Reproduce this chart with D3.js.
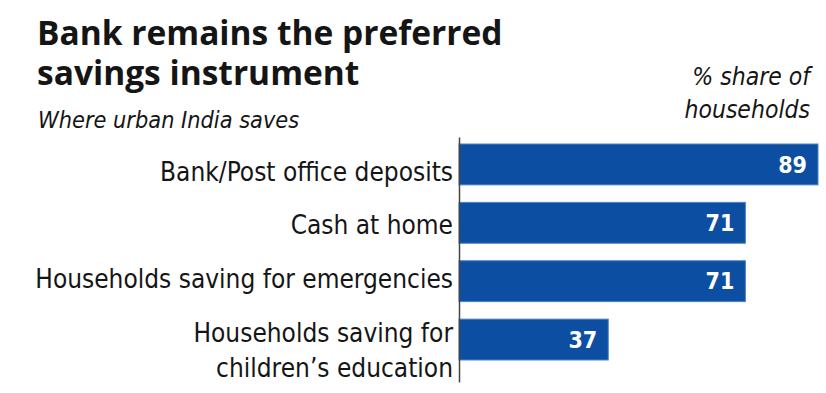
<!DOCTYPE html>
<html>
<head>
<meta charset="utf-8">
<script src="https://cdn.jsdelivr.net/npm/d3@7"></script>
<style>
  html, body { margin: 0; padding: 0; background: #fff; }
  svg { display: block; }
  .narrow { font-family: "Liberation Sans Narrow", "DejaVu Sans Condensed", "Arial Narrow", sans-serif; }
</style>
</head>
<body>
<svg id="chart"></svg>
<script>
// Data
const categories = [
  ["Bank/Post office deposits"],
  ["Cash at home"],
  ["Households saving for emergencies"],
  ["Households saving for", "children\u2019s education"]
];
const values = [89, 71, 71, 37];
const titleLines = ["Bank remains the preferred", "savings instrument"];
const subtitle = "Where urban India saves";
const unitLines = ["% share of", "households"];

const width = 826;
const height = 393;
const barColor = "#0c4ea2";
const textColor = "#151515";

const svg = d3.select("#chart")
  .attr("width", width)
  .attr("height", height)
  .attr("viewBox", `0 0 ${width} ${height}`);

// Scales
const x0 = 459;
const x = d3.scaleLinear().domain([0, 89]).range([x0, 818]);
const y = d3.scaleBand()
  .domain(d3.range(values.length))
  .range([144, 360])
  .paddingInner(0.3)
  .paddingOuter(0);

// Title
svg.append("g")
  .selectAll("text")
  .data(titleLines)
  .join("text")
  .attr("x", 37)
  .attr("y", (d, i) => 45 + i * 40)
  .attr("font-family", "'Open Sans', sans-serif")
  .attr("font-weight", 700)
  .attr("font-size", 33.5)
  .attr("fill", textColor)
  .text((d) => d);

// Subtitle
svg.append("text")
  .attr("class", "narrow")
  .attr("x", 38)
  .attr("y", 128)
  .attr("font-style", "italic")
  .attr("font-size", 23.3)
  .attr("fill", textColor)
  .text(subtitle);

// Unit note
svg.append("g")
  .selectAll("text")
  .data(unitLines)
  .join("text")
  .attr("class", "narrow")
  .attr("x", 810)
  .attr("y", (d, i) => 85 + i * 33)
  .attr("text-anchor", "end")
  .attr("font-style", "italic")
  .attr("font-size", 24.5)
  .attr("fill", textColor)
  .text((d) => d);

// Bars
svg.append("g")
  .selectAll("rect")
  .data(values)
  .join("rect")
  .attr("x", x(0))
  .attr("y", (d, i) => y(i))
  .attr("width", (d) => x(d) - x(0))
  .attr("height", y.bandwidth())
  .attr("fill", barColor)
  .attr("stroke", "#4d82c4")
  .attr("stroke-width", 1);

// Value labels
svg.append("g")
  .selectAll("text")
  .data(values)
  .join("text")
  .attr("class", "narrow")
  .attr("x", (d) => x(d) - 11)
  .attr("y", (d, i) => y(i) + y.bandwidth() / 2)
  .attr("dy", "0.36em")
  .attr("text-anchor", "end")
  .attr("font-weight", 700)
  .attr("font-size", 23)
  .attr("fill", "#fff")
  .text((d) => d);

// Axis line
const axis = d3.axisLeft(y.copy().range([137, 382])).tickValues([]).tickSizeOuter(0);
svg.append("g")
  .attr("transform", `translate(${x0},0)`)
  .call(axis)
  .select(".domain")
  .attr("stroke", "#444")
  .attr("stroke-width", 1.5);

// Category labels
const labelOffsets = [7, 2, -3, 11];
const labels = svg.append("g")
  .selectAll("text")
  .data(categories)
  .join("text")
  .attr("class", "narrow")
  .attr("text-anchor", "end")
  .attr("font-size", 26)
  .attr("fill", textColor)
  .attr("transform", (d, i) => {
    const cy = y(i) + y.bandwidth() / 2 + labelOffsets[i];
    const top = cy - (d.length - 1) * 35 / 2;
    return `translate(453,${top})`;
  });

labels.selectAll("tspan")
  .data((d) => d)
  .join("tspan")
  .attr("x", 0)
  .attr("y", (d, i) => i * 35)
  .attr("dy", "0.36em")
  .text((d) => d);
</script>
</body>
</html>
